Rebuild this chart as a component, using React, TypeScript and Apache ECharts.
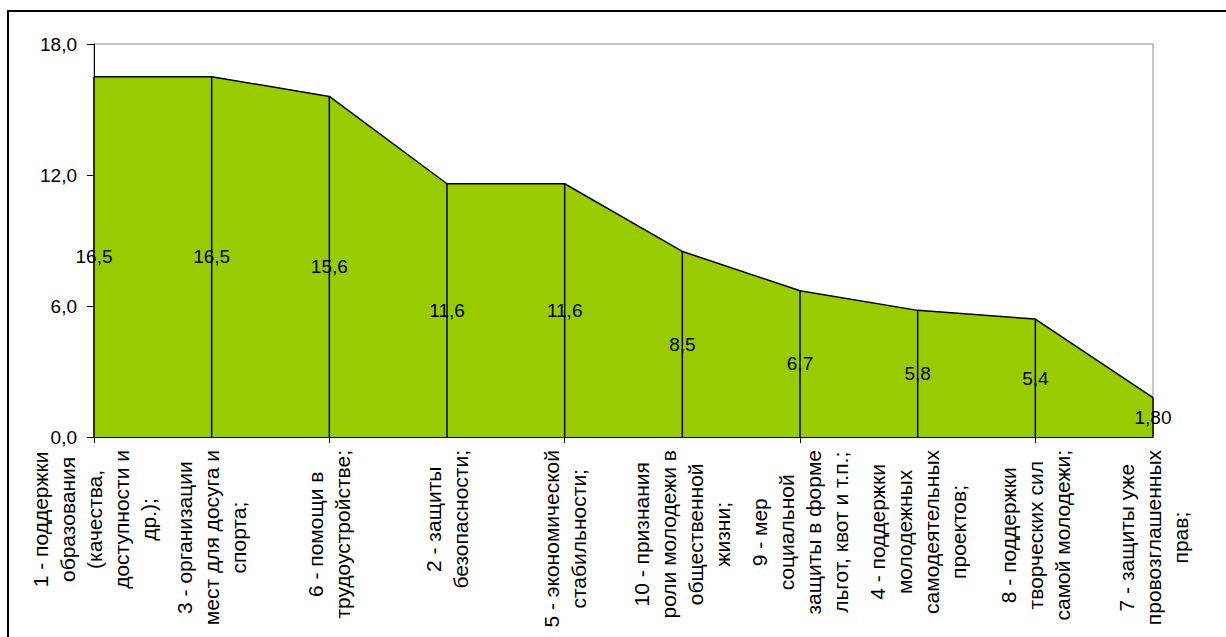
import React, { useEffect, useRef } from "react";
import * as echarts from "echarts";

const categories: string[] = [
  "1 - поддержки\nобразования\n(качества,\nдоступности и\nдр.);",
  "3 - организации\nмест для досуга и\nспорта;",
  "6 - помощи в\nтрудоустройстве;",
  "2 - защиты\nбезопасности;",
  "5 - экономической\nстабильности;",
  "10 - признания\nроли молодежи в\nобщественной\nжизни;",
  "9 - мер\nсоциальной\nзащиты в форме\nльгот, квот и т.п.;",
  "4 - поддержки\nмолодежных\nсамодеятельных\nпроектов;",
  "8 - поддержки\nтворческих сил\nсамой молодежи;",
  "7 - защиты уже\nпровозглашенных\nправ;",
];

const values: number[] = [16.5, 16.5, 15.6, 11.6, 11.6, 8.5, 6.7, 5.8, 5.4, 1.8];
const valueLabels: string[] = ["16,5", "16,5", "15,6", "11,6", "11,6", "8,5", "6,7", "5,8", "5,4", "1,80"];
const yTickLabels: Record<number, string> = { 0: "0,0", 6: "6,0", 12: "12,0", 18: "18,0" };

const FONT = 'Arial, "Liberation Sans", sans-serif';
const XLABEL_SIZE = 21;
const XLABEL_LINE = 27;
const XLABEL_MARGIN = 13;

function lineWidth(line: string): number {
  const t = new (echarts.graphic as any).Text({
    style: { text: line, fontSize: XLABEL_SIZE, fontFamily: FONT },
  });
  return t.getBoundingRect().width;
}

export default function App() {
  const ref = useRef<HTMLDivElement>(null);
  useEffect(() => {
    if (!ref.current) return;
    const chart = echarts.init(ref.current, undefined, { renderer: "svg" });
    const lineWidths = categories.map((c) => c.split("\n").map(lineWidth));
    chart.setOption({
      animation: false,
      backgroundColor: "#ffffff",
      textStyle: { fontFamily: FONT },
      graphic: [
        {
          type: "rect",
          shape: { x: 8, y: 11, width: 1300, height: 700 },
          style: { fill: "none", stroke: "#000000", lineWidth: 2 },
          silent: true,
        },
      ],
      grid: {
        left: 94,
        top: 44,
        right: 73,
        bottom: 200,
        show: true,
        borderColor: "#8c8c8c",
        borderWidth: 1,
        backgroundColor: "transparent",
      },
      xAxis: {
        type: "category",
        data: categories,
        boundaryGap: false,
        axisLine: { show: true, lineStyle: { color: "#000000", width: 1 } },
        axisTick: { show: true, length: 6, inside: false, lineStyle: { color: "#000000" } },
        splitLine: { show: false },
        axisLabel: { show: false },
      },
      yAxis: {
        type: "value",
        min: 0,
        max: 18,
        interval: 6,
        axisLine: { show: true, lineStyle: { color: "#000000", width: 1 } },
        axisTick: { show: true, length: 7, lineStyle: { color: "#000000" } },
        splitLine: { show: false },
        axisLabel: {
          margin: 17,
          color: "#000000",
          fontSize: 19,
          fontFamily: FONT,
          formatter: (v: number) => yTickLabels[v] ?? String(v),
        },
      },
      series: [
        {
          type: "line",
          data: values,
          symbol: "none",
          lineStyle: { color: "#000000", width: 1.5 },
          areaStyle: { color: "#99CC00", opacity: 1 },
          z: 2,
        },
        {
          type: "bar",
          data: values,
          barWidth: 1.5,
          itemStyle: { color: "#000000" },
          label: {
            show: true,
            position: "inside",
            color: "#000000",
            fontSize: 19,
            fontFamily: FONT,
            formatter: (p: any) => valueLabels[p.dataIndex],
          },
          z: 3,
        },
        {
          type: "custom",
          coordinateSystem: "cartesian2d",
          clip: false,
          silent: true,
          data: categories.map((_, i) => [i, 0]),
          encode: { x: 0, y: 1 },
          renderItem: (params: any, api: any) => {
            const i = api.value(0);
            const p = api.coord([i, 0]);
            const lines = categories[i].split("\n");
            const lw = lineWidths[i];
            const w = Math.max(...lw);
            const n = lines.length;
            const yc = p[1] + XLABEL_MARGIN + w / 2;
            return {
              type: "group",
              children: lines.map((line, j) => ({
                type: "text",
                x: p[0] + (j - (n - 1) / 2) * XLABEL_LINE,
                y: yc + lw[j] / 2,
                rotation: Math.PI / 2,
                style: {
                  text: line,
                  align: "left",
                  verticalAlign: "middle",
                  fontSize: XLABEL_SIZE,
                  fontFamily: FONT,
                  fill: "#000000",
                },
              })),
            };
          },
          z: 4,
        },
      ],
    });
    return () => chart.dispose();
  }, []);
  return (
    <div
      ref={ref}
      style={{ position: "fixed", left: 0, top: 0, width: 1226, height: 637 }}
    />
  );
}
